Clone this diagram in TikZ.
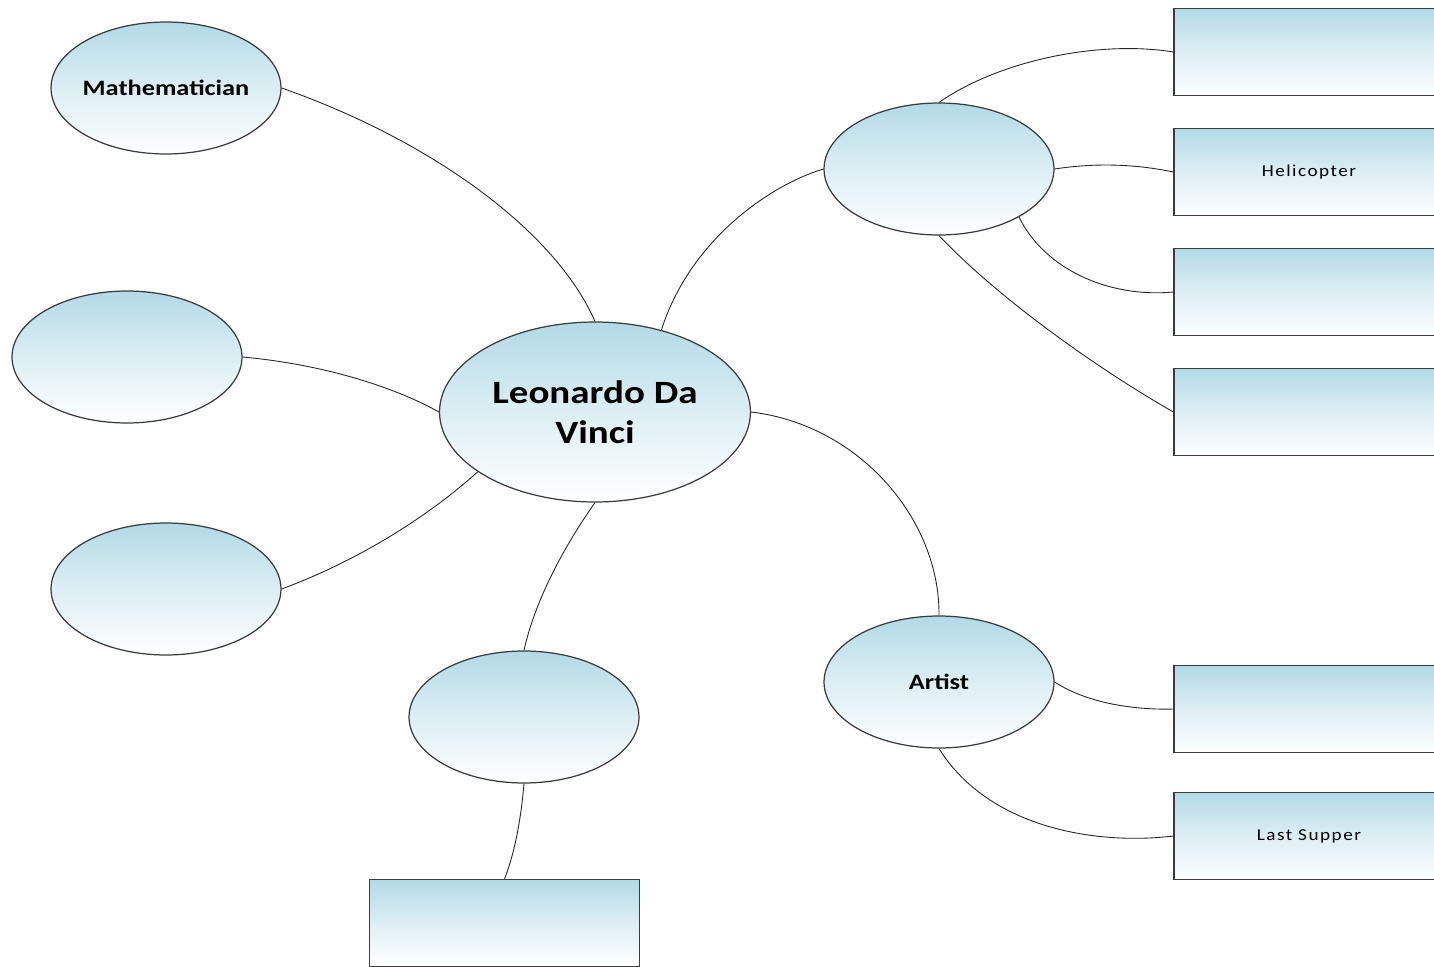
\documentclass[tikz,border=0pt]{standalone}
\usepackage{fontspec}
\setmainfont{Carlito}[FakeStretch=1.2]
\newfontfamily\smallfont{Carlito}[FakeStretch=1.15, LetterSpace=9]
\usetikzlibrary{shapes.geometric}
\definecolor{topblue}{RGB}{178,218,230}
\definecolor{edgegrey}{RGB}{60,60,60}
\tikzset{
  x=0.02cm, y=-0.02cm,
  fillshade/.style={top color=topblue, bottom color=white, middle color=topblue!45!white},
  bubble/.style={ellipse, draw=edgegrey, line width=0.7pt, fillshade, inner sep=0pt,
    minimum width=4.6cm, minimum height=2.64cm, font=\fontsize{12.5}{15}\selectfont\bfseries},
  bigbubble/.style={bubble, minimum width=6.22cm, minimum height=3.6cm,
    align=center, font=\fontsize{18.5}{23}\selectfont\bfseries},
  leaf/.style={rectangle, draw=edgegrey, line width=0.8pt, fillshade, inner sep=0pt,
    minimum width=5.4cm, minimum height=1.74cm, font=\smallfont\fontsize{9.5}{11}\selectfont},
  link/.style={draw=black!85, line width=0.5pt}
}
\begin{document}
\begin{tikzpicture}
\clip (0,0) rectangle (1434,967);
\fill[white] (0,0) rectangle (1434,967);
% ellipses
\node[bigbubble] (c) at (595,412) {Leonardo Da\\Vinci};
\node[bubble] (m) at (166,88) {\makebox[0pt]{Mathematician}};
\node[bubble] (l2) at (127,357) {};
\node[bubble] (l3) at (166,589) {};
\node[bubble] (b) at (524,717) {};
\node[bubble] (tr) at (939,169) {};
\node[bubble] (a) at (939,682) {Artist};
% rectangles
\node[leaf] (br) at (504.5,923) {};
\node[leaf] (r1) at (1309,52) {};
\node[leaf] (r2) at (1309,172) {Helicopter};
\node[leaf] (r3) at (1309,292) {};
\node[leaf] (r4) at (1309,412) {};
\node[leaf] (r5) at (1309,709) {};
\node[leaf] (r6) at (1309,836) {Last Supper};
% connectors
\draw[link] (m.east) .. controls (430,140) and (555,230) .. (c.north);
\draw[link] (l2.east) .. controls (330,365) and (400,390) .. (c.west);
\draw[link] (l3.east) .. controls (360,560) and (430,515) .. (c.207);
\draw[link] (c.south) .. controls (565,545) and (535,600) .. (b.north);
\draw[link] (b.south) .. controls (520,830) and (512,860) .. (br.north);
\draw[link] (c.51) .. controls (690,240) and (770,185) .. (tr.west);
\draw[link] (c.east) .. controls (860,425) and (940,520) .. (a.north);
\draw[link] (tr.north) .. controls (1000,60) and (1100,40) .. (r1.west);
\draw[link] (tr.east) .. controls (1100,162) and (1140,165) .. (r2.west);
\draw[link] (tr.-31) .. controls (1045,270) and (1110,298) .. (r3.west);
\draw[link] (tr.south) .. controls (1000,300) and (1100,370) .. (r4.west);
\draw[link] (a.east) .. controls (1090,705) and (1140,710) .. (r5.west);
\draw[link] (a.south) .. controls (990,830) and (1100,845) .. (r6.west);
\end{tikzpicture}
\end{document}
